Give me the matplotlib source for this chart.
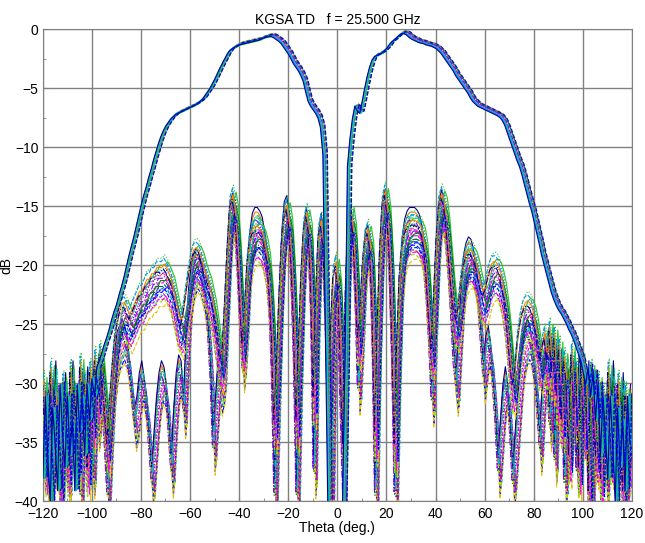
import numpy as np
import matplotlib
matplotlib.use("Agg")
import matplotlib.pyplot as plt

plt.rcParams.update({"font.family": ["Liberation Sans", "DejaVu Sans"], "font.size": 10})

# ---- data: angle grid and the three families of traces (dB) ----
THETA = np.arange(-120, 121, 1)

COPOL_DB = [
    -33, -38, -31, -36, -40, -32, -35, -39, -30, -34,          # -120..-111
    -37, -31, -36, -33, -39, -30, -34, -31, -36, -30,          # -110..-101
    -33, -29.5, -31, -28.5, -28, -27.3, -26.6, -26, -25.3, -24.5,   # -100..-91
    -23.8, -23.2, -22.4, -21.7, -20.9, -20.0, -19.1, -18.3, -17.5, -16.6,  # -90..-81
    -15.7, -14.8, -14.0, -13.3, -12.5, -11.8, -11.0, -10.3, -9.6, -9.0,    # -80..-71
    -8.5, -8.1, -7.8, -7.5, -7.3, -7.1, -7.0, -6.9, -6.8, -6.7,            # -70..-61
    -6.6, -6.5, -6.4, -6.3, -6.15, -6.0, -5.8, -5.5, -5.2, -4.9,           # -60..-51
    -4.5, -4.1, -3.65, -3.2, -2.8, -2.4, -2.0, -1.7, -1.55, -1.4,          # -50..-41
    -1.3, -1.2, -1.15, -1.1, -1.05, -1.0, -0.95, -0.9, -0.85, -0.8,        # -40..-31
    -0.7, -0.6, -0.55, -0.5, -0.5, -0.6, -0.75, -0.9, -1.1, -1.4,          # -30..-21
    -1.7, -2.0, -2.4, -2.8, -3.1, -3.4, -3.8, -4.3, -5.2, -6.0,            # -20..-11
    -6.4, -6.7, -7.0, -7.4, -8.2, -10.5, -25, -40, -45, -48,               # -10..-1
    -48, -46, -44, -40, -28, -11.5, -9.2, -7.5, -6.4, -6.8,                # 0..9
    -7.0, -6.0, -4.9, -3.9, -3.1, -2.5, -2.2, -2.1, -2.0, -1.9,            # 10..19
    -1.7, -1.5, -1.2, -0.95, -0.8, -0.6, -0.4, -0.25, -0.25, -0.35,        # 20..29
    -0.55, -0.7, -0.8, -0.9, -1.0, -1.05, -1.1, -1.2, -1.25, -1.3,         # 30..39
    -1.4, -1.5, -1.7, -1.9, -2.2, -2.5, -2.8, -3.1, -3.4, -3.8,            # 40..49
    -4.1, -4.4, -4.7, -5.0, -5.3, -5.7, -6.0, -6.2, -6.4, -6.5,            # 50..59
    -6.6, -6.7, -6.8, -6.9, -7.0, -7.1, -7.2, -7.35, -7.6, -8.0,           # 60..69
    -8.6, -9.2, -9.8, -10.4, -11.0, -11.5, -12.2, -13.0, -13.8, -14.6,     # 70..79
    -15.3, -16.2, -17.1, -18.0, -19.0, -19.8, -20.6, -21.4, -22.2, -22.8,  # 80..89
    -23.3, -23.7, -24.0, -24.4, -24.8, -25.3, -25.7, -26.2, -26.8, -27.4,  # 90..99
    -28.0, -29, -30, -28.5, -31, -29, -33, -30, -36, -31,                  # 100..109
    -34, -38, -31, -35, -40, -32, -37, -33, -39, -31,                      # 110..119
    -35,                                                                   # 120
]

XPOL_A_DB = [
    -36, -31, -38, -33, -30, -37, -32, -35, -40, -31,
    -34, -38, -30, -35, -32, -37, -29.5, -34, -31, -38,
    -30, -34, -29, -32, -28.5, -31, -33, -36, -33, -30,
    -27.5, -26, -25, -24.5, -24.5, -25, -25.5, -25, -24.5, -24,
    -23.5, -23.5, -23, -22.5, -22.5, -22, -22, -21.5, -21.5, -21.5,
    -21.2, -21.5, -22, -22.5, -23.5, -24.5, -25.5, -26, -25, -23.5,
    -22, -20.8, -20, -19.8, -20, -20.5, -21.3, -22, -22.5, -23.5,
    -24.5, -26, -27.5, -29, -28, -24, -19.5, -16, -15.3, -16.5,
    -19.5, -24, -27.5, -25, -21, -19, -18.3, -18, -18, -18.2,
    -18.5, -19.3, -20.5, -23, -27, -34, -30, -24, -19.5, -17,
    -16.2, -17.5, -21, -26, -34, -28, -22, -18, -16.8, -18,
    -23, -32, -24, -18.5, -17.5, -19.5, -25, -33, -27, -22,
    -21, -23, -29, -36, -24, -18, -16.6, -18, -22, -27,
    -25, -21, -18.8, -18.2, -19.5, -25, -35, -27, -20, -16,
    -15, -16.5, -20.5, -27, -36, -28, -22, -19.5, -18.3, -17.8,
    -17.6, -17.5, -17.5, -17.6, -17.8, -18.3, -19.5, -22, -25.5, -28,
    -24, -19, -16, -15.2, -15.8, -17.5, -20, -22.5, -24.5, -25.5,
    -24.5, -22.5, -21, -20.3, -20, -20, -20.3, -21, -22, -23,
    -23.5, -23, -22, -21.3, -21, -21, -21.3, -22, -23, -24.5,
    -26.5, -29, -31, -30, -27.5, -26, -25, -24.5, -24.3, -24.5,
    -25, -26, -27.5, -29, -28, -27, -29, -26.5, -30, -27,
    -32, -28, -34, -29, -31, -37, -28.5, -33, -30, -38,
    -29, -35, -31, -40, -30, -34, -37, -31, -39, -32,
    -35, -30, -37, -33, -38, -31, -36, -40, -32, -35,
    -38,
]

XPOL_B_DB = [
    -31, -37, -34, -40, -32, -36, -30, -38, -33, -35,
    -31, -39, -34, -30, -37, -32, -40, -33, -36, -30.5,
    -35, -38, -31, -34, -30, -33, -36, -40, -35, -31,
    -29, -27.5, -27, -26.5, -27, -28, -30, -32, -34, -33,
    -31, -30, -31.5, -33, -36, -39, -36, -33, -31, -30,
    -30.5, -32, -35, -38, -34, -31, -29.5, -30, -33, -28,
    -24, -22, -21, -20.5, -20.8, -21.5, -22.5, -24, -26.5, -30,
    -36, -33, -30, -31, -30, -25, -20, -16.5, -15.8, -17,
    -20, -25, -29, -26, -21.5, -19, -17.5, -17, -17, -17.3,
    -17.8, -19, -20.5, -24, -30, -40, -32, -24.5, -19, -16.5,
    -16, -17.5, -22, -29, -40, -30, -22.5, -18.5, -17, -18.5,
    -25, -38, -26, -19, -17.5, -19, -24, -31, -40, -27,
    -23, -25, -33, -40, -26, -19, -17, -18.5, -23, -31,
    -27, -22, -19, -18.5, -20, -27, -40, -28, -20.5, -16.5,
    -15.5, -17, -21.5, -29, -40, -30, -23, -19.5, -18, -17.3,
    -17, -17, -17, -17.2, -17.6, -18.5, -20, -23, -27, -32,
    -25, -19.5, -16.5, -15.5, -16.3, -18.5, -21.5, -25, -29, -31,
    -27, -23.5, -21, -20, -19.5, -19.7, -20.5, -22, -24, -27,
    -30, -28, -27, -28.5, -31, -34, -38, -35, -32, -30.5,
    -32, -35, -39, -36, -33, -30, -28, -27, -26.5, -27,
    -28.5, -30.5, -33, -36, -32, -29, -31, -34, -28.5, -37,
    -30, -33, -29, -39, -31, -35, -30, -32, -38, -29.5,
    -34, -31, -36, -30, -40, -33, -31, -37, -32, -35,
    -39, -31, -34, -30, -38, -33, -36, -31, -40, -34,
    -32,
]

# per-trace spread of the measured cuts (angle offset in deg, level offset in dB)
COPOL_SHIFT = [0.0, 0.3, -0.3, 0.6, -0.5, 0.15, -0.15, 0.45, -0.7, 0.8, -0.9, 0.95]
COPOL_OFFSET = [0.0, 0.08, -0.08, 0.15, -0.15, 0.05, -0.1, 0.12, -0.05, 0.02, -0.12, 0.1]
XPA_SHIFT = [0.0, 0.4, -0.4, 0.8, -0.8, 0.2, -0.2, 0.6, -0.6, 1.0, -1.0, 0.3,
             -0.7, 0.9, 0.5, -0.5, 0.1, -0.9, 0.7, -0.3]
XPA_OFFSET = [0.0, 0.8, -0.8, 1.5, -1.2, 0.4, -0.5, 1.1, -1.6, 0.2, 0.6, -0.3,
              1.8, -1.0, -2.0, 1.3, -1.4, 0.9, -0.6, 2.1]
XPB_SHIFT = [0.1, -0.3, 0.5, -0.7, 0.9, -0.5, 0.3, -0.9, 0.7, -0.1, 0.25, -0.6, 0.65, -0.2]
XPB_OFFSET = [0.0, 1.0, -1.0, 0.5, -0.5, 1.5, -1.5, 0.8, -0.8, 0.3, -1.8, 1.9, -0.2, 1.2]

COLORS = ["#0000FF", "#008000", "#FF00FF", "#00C0C0", "#E6C000", "#8000FF",
          "#0090FF", "#30C030", "#FF4090", "#000090", "#90E000", "#FF8000",
          "#2060C0", "#00E0E0", "#C000C0", "#006040"]
COPOL_COLORS = ["#FF00FF", "#E6C000", "#00E0E0", "#FF8000", "#90E000", "#8000FF",
                "#00C0C0", "#30C030", "#0090FF", "#006040", "#000090", "#0000FF"]
STYLES = ["--", "-.", "--", ":", "--", "-"]

fig = plt.figure(figsize=(6.45, 5.43), dpi=100)
ax = fig.add_axes([0.066, 0.077, 0.914, 0.869])

theta = THETA.astype(float)
k = 0
for s, o in zip(XPB_SHIFT, XPB_OFFSET):
    ax.plot(theta + s, np.array(XPOL_B_DB) + o, color=COLORS[(k * 5 + 2) % 16],
            ls=STYLES[k % 6], lw=0.8, zorder=2)
    k += 1
for s, o in zip(XPA_SHIFT, XPA_OFFSET):
    ax.plot(theta + s, np.array(XPOL_A_DB) + o, color=COLORS[(k * 7) % 16],
            ls=STYLES[k % 6], lw=0.8, zorder=3)
    k += 1
for i, (s, o) in enumerate(zip(COPOL_SHIFT, COPOL_OFFSET)):
    ax.plot(theta + s, np.array(COPOL_DB) + o, color=COPOL_COLORS[i],
            ls="-" if i % 2 == 0 else "--", lw=0.8, zorder=4)

ax.set_xlim(-120, 120)
ax.set_ylim(-40, 0)
ax.set_xticks(np.arange(-120, 121, 20))
ax.set_yticks(np.arange(-40, 1, 5))
ax.set_xticks(np.arange(-110, 120, 20), minor=True)
ax.set_yticks(np.arange(-37.5, 0, 5), minor=True)
ax.grid(True, which="major", color="#808080", lw=1.0)
ax.set_axisbelow(True)
for sp in ax.spines.values():
    sp.set_color("#808080")
ax.tick_params(which="both", direction="in", color="#808080", labelsize=10)
ax.tick_params(axis="x", pad=4)
ax.tick_params(axis="y", pad=3)
ax.tick_params(which="minor", length=2.5)
ax.set_title("KGSA TD   f = 25.500 GHz", fontsize=10, pad=4)
ax.set_xlabel("Theta (deg.)", fontsize=10, labelpad=0)
ax.set_ylabel("dB", fontsize=10, labelpad=1)

fig.savefig("out.png", dpi=100, facecolor="white")
